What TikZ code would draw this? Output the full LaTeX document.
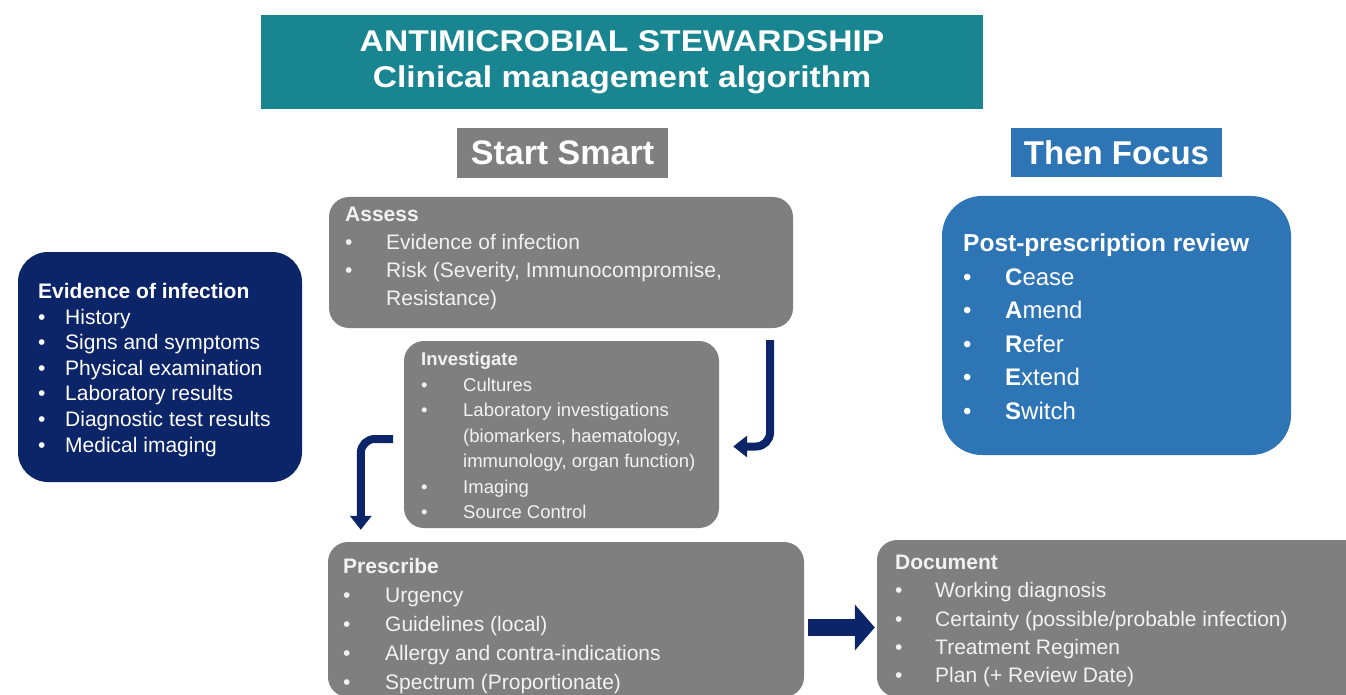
\documentclass[tikz,border=0pt]{standalone}
\usepackage{fontspec}
\setmainfont{Liberation Sans}
\usetikzlibrary{arrows.meta}

\definecolor{amsteal}{RGB}{24,133,144}
\definecolor{amsgray}{RGB}{127,127,127}
\definecolor{amsblue}{RGB}{46,117,182}
\definecolor{amsnavy}{RGB}{12,36,104}
\definecolor{boxtext}{RGB}{242,242,242}

% bullet with a fixed gap, and the same gap for wrapped lines
\newcommand{\itemdot}[1][40pt]{\makebox[#1][l]{\textbullet}}
\newcommand{\itemgap}[1][40pt]{\makebox[#1]{}}

\begin{document}
\begin{tikzpicture}[x=1pt, y=-1pt,
		titlebox/.style={fill=amsteal, text=white, align=center, inner sep=0pt,
			font=\bfseries\fontsize{30}{36}\selectfont\addfontfeatures{FakeStretch=1.12}},
		headbox/.style={text=white, inner sep=0pt, font=\bfseries\fontsize{34}{40}\selectfont},
		graybox/.style={fill=amsgray, rounded corners=20pt, inner sep=0pt},
		listtext/.style={text=boxtext, align=left, anchor=north west, inner sep=0pt},
		bendarrow/.style={draw=amsnavy, line width=8pt, rounded corners=14pt,
			-{Triangle[width=21pt, length=14pt]}},
		fatarrow/.style={draw=amsnavy, line width=17pt, -{Triangle[width=45pt, length=20pt]}}]
	% page frame
	\fill[white] (0,0) rectangle (1346,695);
	\useasboundingbox (0,0) rectangle (1346,695);
	
	% title and the two column heads
	\node[titlebox, minimum width=722pt, minimum height=94pt] (title) at (622,62)
		{ANTIMICROBIAL STEWARDSHIP\\Clinical management algorithm};
	\node[headbox, fill=amsgray, minimum width=211pt, minimum height=50pt] (start) at (562.5,153) {Start Smart};
	\node[headbox, fill=amsblue, minimum width=211pt, minimum height=49pt,
		font=\bfseries\fontsize{33}{40}\selectfont] (focus) at (1116.5,152.5) {Then Focus};
	
	% boxes
	\node[graybox, fill=amsnavy, rounded corners=30pt, minimum width=284pt, minimum height=230pt] (evidence) at (160,367) {};
	\node[graybox, minimum width=464pt, minimum height=131pt] (assess) at (561,262.5) {};
	\node[graybox, minimum width=315pt, minimum height=187pt] (investigate) at (561.5,434.5) {};
	\node[graybox, minimum width=476pt, minimum height=155pt] (prescribe) at (566,619.5) {};
	\node[graybox, minimum width=493pt, minimum height=157pt] (document) at (1123.5,618.5) {};
	\node[graybox, fill=amsblue, rounded corners=40pt, minimum width=349pt, minimum height=259pt] (review) at (1116.5,325.5) {};
	
	% box texts
	\node[listtext, text=white, font=\fontsize{21}{25.6}\selectfont] (evidencetxt) at (38,283)
		{\textbf{Evidence of infection}\\
		\itemdot[27pt]History\\
		\itemdot[27pt]Signs and symptoms\\
		\itemdot[27pt]Physical examination\\
		\itemdot[27pt]Laboratory results\\
		\itemdot[27pt]Diagnostic test results\\
		\itemdot[27pt]Medical imaging};
	\node[listtext, font=\fontsize{21}{28}\selectfont] (assesstxt) at (345,207)
		{\textbf{Assess}\\
		\itemdot[41pt]Evidence of infection\\
		\itemdot[41pt]Risk (Severity, Immunocompromise,\\
		\itemgap[41pt]Resistance)};
	\node[listtext, font=\fontsize{18.5}{25.5}\selectfont] (investigatetxt) at (421,352)
		{\textbf{Investigate}\\
		\itemdot[42pt]Cultures\\
		\itemdot[42pt]Laboratory investigations\\
		\itemgap[42pt](biomarkers, haematology,\\
		\itemgap[42pt]immunology, organ function)\\
		\itemdot[42pt]Imaging\\
		\itemdot[42pt]Source Control};
	\node[listtext, font=\fontsize{21}{29}\selectfont] (prescribetxt) at (343,558)
		{\textbf{Prescribe}\\
		\itemdot[42pt]Urgency\\
		\itemdot[42pt]Guidelines (local)\\
		\itemdot[42pt]Allergy and contra-indications\\
		\itemdot[42pt]Spectrum (Proportionate)};
	\node[listtext, font=\fontsize{21}{28.3}\selectfont] (documenttxt) at (895,555)
		{\textbf{Document}\\
		\itemdot[40pt]Working diagnosis\\
		\itemdot[40pt]Certainty (possible/probable infection)\\
		\itemdot[40pt]Treatment Regimen\\
		\itemdot[40pt]Plan (+ Review Date)};
	\node[listtext, text=white, font=\fontsize{24}{33.5}\selectfont] (reviewtxt) at (963,234)
		{{\bfseries\fontsize{24.5}{33.5}\selectfont Post-prescription review}\\
		\itemdot[42pt]\textbf{C}ease\\
		\itemdot[42pt]\textbf{A}mend\\
		\itemdot[42pt]\textbf{R}efer\\
		\itemdot[42pt]\textbf{E}xtend\\
		\itemdot[42pt]\textbf{S}witch};
	
	% arrows
	\coordinate (bendtop) at (770,340);
	\coordinate (bendleft) at (393,439);
	\draw[bendarrow, shorten >=14pt] (bendtop) |- ([yshift=-12pt]investigate.east);
	\draw[bendarrow, shorten >=12pt] (bendleft) -| ([xshift=33pt]prescribe.north west);
	\draw[fatarrow, shorten <=4pt, shorten >=2pt] ([yshift=-8pt]prescribe.east) -- ([yshift=-8pt]prescribe.east -| document.west);
\end{tikzpicture}
\end{document}
